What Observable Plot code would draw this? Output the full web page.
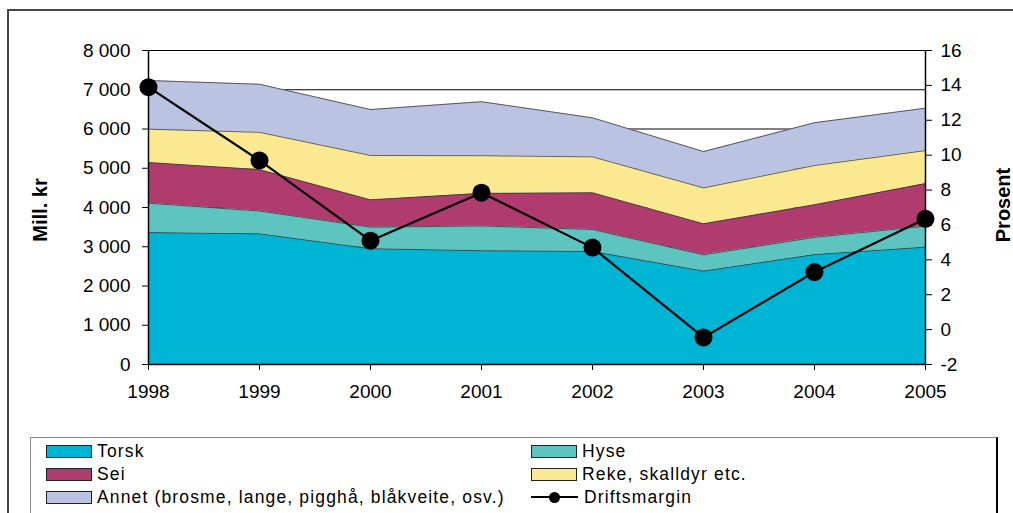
<!DOCTYPE html>
<html>
<head>
<meta charset="utf-8">
<script src="https://cdn.jsdelivr.net/npm/d3@7"></script>
<script src="https://cdn.jsdelivr.net/npm/@observablehq/plot@0.6"></script>
<style>
  html, body { margin: 0; padding: 0; background: #fff; }
  #wrap { position: relative; width: 1013px; height: 513px; overflow: hidden; font-family: "Liberation Sans", Arial, sans-serif; }
  #frame { position: absolute; left: 7px; top: 9px; width: 1100px; height: 600px; border-top: 2px solid #444; border-left: 2px solid #444; }
  #chart { position: absolute; left: 0; top: 0; }
  .ylab { position: absolute; font-weight: bold; font-size: 20px; color: #000; white-space: nowrap; }
  #legend { position: absolute; left: 30px; top: 437px; width: 965px; height: 100px; border: 1px solid #888; border-right: 2px solid #000; background: #fff; }
  .item { position: absolute; height: 20px; display: flex; align-items: center; font-size: 17.5px; letter-spacing: 1.15px; color: #000; white-space: nowrap; }
  .sw { width: 44px; height: 11px; border: 1px solid #222; margin-right: 5px; }
  .ln { position: relative; width: 47px; height: 12px; margin-right: 6px; }
  .ln::before { content: ""; position: absolute; left: 0; right: 0; top: 5px; height: 2px; background: #000; }
  .ln::after { content: ""; position: absolute; left: 18px; top: 1px; width: 11px; height: 11px; border-radius: 50%; background: #000; }
</style>
</head>
<body>
<div id="wrap">
  <div id="frame"></div>
  <div id="chart"></div>
  <div class="ylab" id="ylabL">Mill. kr</div>
  <div class="ylab" id="ylabR">Prosent</div>
  <div id="legend"></div>
</div>
<script>
// ---- data ----
const years = [1998, 1999, 2000, 2001, 2002, 2003, 2004, 2005];
const seriesNames = ["Torsk", "Hyse", "Sei", "Reke, skalldyr etc.", "Annet (brosme, lange, pigghå, blåkveite, osv.)"];
const torsk = [3360, 3330, 2950, 2900, 2880, 2380, 2800, 2990];
const hyse  = [750, 580, 550, 630, 560, 415, 440, 535];
const sei   = [1035, 1055, 695, 830, 935, 790, 830, 1085];
const reke  = [850, 950, 1130, 960, 915, 915, 1000, 840];
const annet = [1240, 1225, 1170, 1375, 995, 925, 1090, 1080];
const driftsmargin = [13.9, 9.7, 5.1, 7.85, 4.7, -0.45, 3.3, 6.35];
const leftTicks = [0, 1000, 2000, 3000, 4000, 5000, 6000, 7000, 8000];
const rightTicks = [-2, 0, 2, 4, 6, 8, 10, 12, 14, 16];
const colors = ["#00B5D3", "#5EC4C0", "#B03B6E", "#FBE991", "#BBC3E3"];

// ---- build ----
const seriesValues = [torsk, hyse, sei, reke, annet];
const long = [];
seriesNames.forEach((s, i) => years.forEach((y, j) => long.push({year: y, series: s, value: seriesValues[i][j]})));

const leftMax = 8000, rMin = -2, rMax = 16;
const toLeft = p => (p - rMin) / (rMax - rMin) * leftMax;
const fromLeft = v => Math.round(v / leftMax * (rMax - rMin) + rMin);
const margin = years.map((y, i) => ({year: y, v: toLeft(driftsmargin[i])}));
const fmt = d => d3.format(",")(d).replace(/,/g, " ");

const chart = Plot.plot({
  width: 1013,
  height: 400,
  marginLeft: 148,
  marginRight: 88,
  marginTop: 50,
  marginBottom: 36,
  style: {fontFamily: "'Liberation Sans', Arial, sans-serif", fontSize: "19px", color: "#000", background: "transparent", overflow: "visible"},
  x: {domain: [1998, 2005]},
  y: {domain: [0, 8000]},
  color: {domain: seriesNames, range: colors},
  marks: [
    Plot.ruleY(leftTicks.slice(1), {stroke: "#000", strokeWidth: 1}),
    Plot.areaY(long, {x: "year", y: "value", z: "series", fill: "series", order: seriesNames}),
    Plot.lineY(long, Plot.stackY2({x: "year", y: "value", z: "series", order: seriesNames, stroke: "#333", strokeWidth: 1, strokeOpacity: 0.75})),
    Plot.ruleX([1998, 2005], {y1: 0, y2: 8000, stroke: "#000", strokeWidth: 1.5}),
    Plot.ruleY([0], {stroke: "#000", strokeWidth: 1.5}),
    Plot.axisY({ticks: leftTicks, tickFormat: fmt, tickSize: 6, tickPadding: 12, label: null, fontSize: 19}),
    Plot.axisY({anchor: "right", ticks: rightTicks.map(toLeft), tickFormat: fromLeft, tickSize: 6, tickPadding: 9, label: null, fontSize: 19}),
    Plot.axisX({ticks: years, tickFormat: "d", tickSize: 6, tickPadding: 14, label: null, fontSize: 19}),
    Plot.line(margin, {x: "year", y: "v", stroke: "#000", strokeWidth: 2.2}),
    Plot.dot(margin, {x: "year", y: "v", r: 9, fill: "#000"})
  ]
});
document.getElementById("chart").appendChild(chart);

// axis titles
const L = document.getElementById("ylabL");
L.style.left = "40px"; L.style.top = "210px";
L.style.transform = "translate(-50%, -50%) rotate(-90deg)";
const R = document.getElementById("ylabR");
R.style.left = "1003px"; R.style.top = "205px";
R.style.transform = "translate(-50%, -50%) rotate(-90deg)";

// legend
const legend = document.getElementById("legend");
const items = [
  {name: seriesNames[0], color: colors[0], x: 15, y: 3},
  {name: seriesNames[1], color: colors[1], x: 500, y: 3},
  {name: seriesNames[2], color: colors[2], x: 15, y: 26},
  {name: seriesNames[3], color: colors[3], x: 500, y: 26},
  {name: seriesNames[4], color: colors[4], x: 15, y: 49},
  {name: "Driftsmargin", color: null, x: 500, y: 49}
];
items.forEach(it => {
  const d = document.createElement("div");
  d.className = "item";
  d.style.left = it.x + "px"; d.style.top = it.y + "px";
  const s = document.createElement("div");
  if (it.color) { s.className = "sw"; s.style.background = it.color; } else { s.className = "ln"; }
  d.appendChild(s);
  const t = document.createElement("span");
  t.textContent = it.name;
  d.appendChild(t);
  legend.appendChild(d);
});
</script>
</body>
</html>
